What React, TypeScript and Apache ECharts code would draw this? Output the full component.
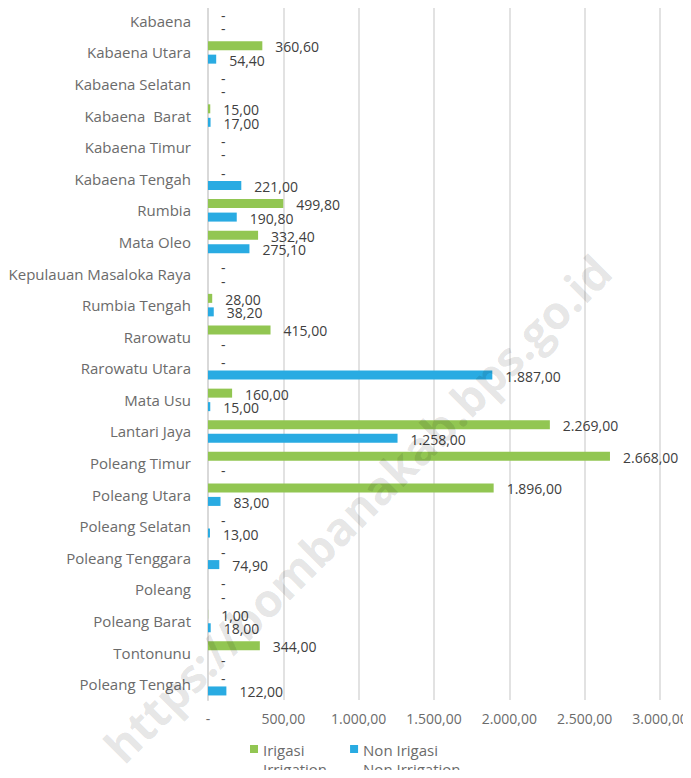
import React, { useEffect, useRef } from "react";
import * as echarts from "echarts";

const categories = [
  "Kabaena",
  "Kabaena Utara",
  "Kabaena Selatan",
  "Kabaena  Barat",
  "Kabaena Timur",
  "Kabaena Tengah",
  "Rumbia",
  "Mata Oleo",
  "Kepulauan Masaloka Raya",
  "Rumbia Tengah",
  "Rarowatu",
  "Rarowatu Utara",
  "Mata Usu",
  "Lantari Jaya",
  "Poleang Timur",
  "Poleang Utara",
  "Poleang Selatan",
  "Poleang Tenggara",
  "Poleang",
  "Poleang Barat",
  "Tontonunu",
  "Poleang Tengah",
];

const irigasi = [0, 360.6, 0, 15, 0, 0, 499.8, 332.4, 0, 28, 415, 0, 160, 2269, 2668, 1896, 0, 0, 0, 1, 344, 0];
const nonIrigasi = [0, 54.4, 0, 17, 0, 221, 190.8, 275.1, 0, 38.2, 0, 1887, 15, 1258, 0, 83, 13, 74.9, 0, 18, 0, 122];

const seriesNames = ["Irigasi\nIrrigation", "Non Irigasi\nNon Irrigation"];
const watermark = "https://bombanakab.bps.go.id";

function fmt(v: number): string {
  if (v === 0) return "-";
  const [i, d] = v.toFixed(2).split(".");
  const withDots = i.replace(/\B(?=(\d{3})+(?!\d))/g, ".");
  return withDots + "," + d;
}

const FONT = "Open Sans";
const GRAY = "#6b6b6b";

export default function App() {
  const ref = useRef<HTMLDivElement>(null);
  useEffect(() => {
    if (!ref.current) return;
    const chart = echarts.init(ref.current, undefined, { renderer: "svg" });
    const labelCfg = {
      show: true,
      position: "right" as const,
      distance: 13,
      offset: [0, 1],
      color: "#404040",
      fontSize: 14,
      fontFamily: FONT,
      formatter: (p: any) => fmt(p.value),
    };
    chart.setOption({
      animation: false,
      backgroundColor: "#ffffff",
      textStyle: { fontFamily: FONT },
      grid: { left: 208, right: 31, top: 5, bottom: 78, containLabel: false },
      xAxis: {
        type: "value",
        min: 0,
        max: 3000,
        interval: 500,
        axisLine: { show: false },
        axisTick: { show: false },
        splitLine: { lineStyle: { color: "#d9d9d9", width: 1.5 } },
        axisLabel: {
          color: GRAY,
          fontSize: 14,
          fontFamily: FONT,
          margin: 11,
          formatter: (v: number) => fmt(v),
        },
      },
      yAxis: {
        type: "category",
        data: categories,
        inverse: true,
        axisTick: { show: false },
        axisLine: { show: true, lineStyle: { color: "#d9d9d9", width: 2 } },
        axisLabel: { color: GRAY, fontSize: 15, fontFamily: FONT, margin: 17 },
      },
      legend: {
        left: 250,
        top: 740,
        padding: 0,
        itemWidth: 8,
        itemHeight: 28,
        itemGap: 23,
        icon: "path://M0,0 L8,0 L8,8 L0,8 Z M0,28 L8,28",
        textStyle: {
          color: GRAY,
          fontSize: 15,
          fontFamily: FONT,
          lineHeight: 19,
        },
        data: seriesNames,
      },
      series: [
        {
          name: seriesNames[0],
          type: "bar",
          data: irigasi,
          barWidth: 9,
          barGap: "50%",
          itemStyle: { color: "#92c652" },
          label: labelCfg,
        },
        {
          name: seriesNames[1],
          type: "bar",
          data: nonIrigasi,
          barWidth: 9,
          barGap: "50%",
          itemStyle: { color: "#29abe2" },
          label: labelCfg,
        },
      ],
      graphic: [
        {
          type: "text",
          x: 357,
          y: 508,
          rotation: Math.PI / 4,
          z: 100,
          silent: true,
          style: {
            text: watermark,
            fill: "rgba(0,0,0,0.11)",
            font: `bold 46px "${FONT}"`,
            textAlign: "center",
            textVerticalAlign: "middle",
            verticalAlign: "middle",
          },
        },
      ],
    });
    return () => chart.dispose();
  }, []);
  return <div ref={ref} style={{ width: 691, height: 778, margin: -8 }} />;
}
